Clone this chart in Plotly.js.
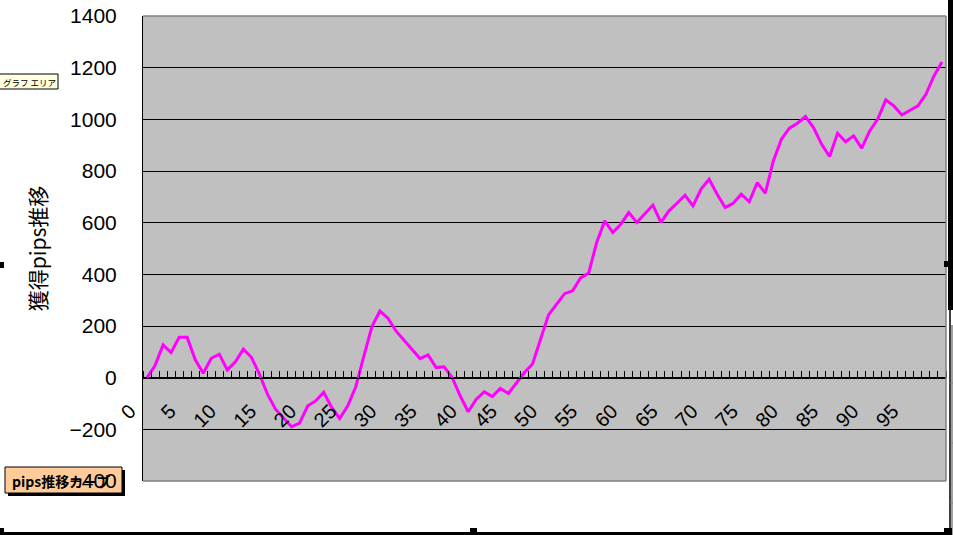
<!DOCTYPE html>
<html>
<head>
<meta charset="utf-8">
<script src="https://cdn.plot.ly/plotly-3.0.1.min.js"></script>
<style>
  html, body { margin: 0; padding: 0; background: #ffffff; }
  #chart { width: 953px; height: 535px; }
</style>
</head>
<body>
<div id="chart"></div>
<script>
// ---- data ----
const seriesName = "pips推移カーブ";
const pipsValues = [
  0, 47, 127, 97, 156, 156, 70, 17, 75, 91,
  30, 61, 110, 79, 14, -64, -122, -154, -190, -176,
  -110, -90, -57, -115, -158, -109, -35, 82, 197, 258,
  230, 181, 145, 110, 74, 88, 39, 42, 1, -70,
  -132, -83, -55, -73, -42, -61, -19, 20, 52, 149,
  243, 284, 325, 336, 386, 405, 523, 607, 562, 594,
  639, 601, 633, 668, 601, 646, 675, 706, 665, 730,
  768, 710, 659, 675, 710, 681, 755, 714, 839, 923,
  966, 985, 1011, 968, 904, 856, 946, 913, 936, 888,
  955, 1001, 1075, 1052, 1017, 1033, 1052, 1097, 1168, 1222
];
const categories = pipsValues.map((v, i) => i);
const xTickLabels = ["0","5","10","15","20","25","30","35","40","45",
                     "50","55","60","65","70","75","80","85","90","95"];
const yTickValues = [-400, -200, 0, 200, 400, 600, 800, 1000, 1200, 1400];
const yTitle = "獲得pips推移";
const chartAreaTip = "グラフ エリア";

// ---- geometry helpers (pixel -> paper) ----
const L = 143, R = 946, T = 16, B = 481;
const W = 953, H = 535;
const px = x => (x - L) / (R - L);
const py = y => (B - y) / (B - T);
const yMin = -400, yMax = 1400;

function rect(x0, y0, x1, y1, fill, line, layer) {
  return {type: 'rect', xref: 'paper', yref: 'paper',
    x0: px(x0), x1: px(x1), y0: py(y1), y1: py(y0),
    fillcolor: fill, line: line || {width: 0}, layer: layer || 'above'};
}
function seg(x0, y0, x1, y1, color, width, layer) {
  return {type: 'line', xref: 'paper', yref: 'paper',
    x0: px(x0), x1: px(x1), y0: py(y0), y1: py(y1),
    line: {color: color, width: width}, layer: layer || 'above'};
}

const trace = {
  type: 'scatter', mode: 'lines', name: seriesName,
  x: categories, y: pipsValues,
  line: {color: '#FF00FF', width: 3},
  hoverinfo: 'x+y'
};

const layout = {
  width: W, height: H,
  margin: {l: L, r: W - R, t: T, b: H - B, pad: 0},
  paper_bgcolor: '#ffffff',
  plot_bgcolor: '#C0C0C0',
  showlegend: false,
  font: {family: 'Liberation Sans, Arial, sans-serif', color: '#000000'},
  xaxis: {
    range: [-0.5, categories.length - 0.5],
    anchor: 'free',
    position: (0 - yMin) / (yMax - yMin),
    showline: true, linecolor: '#000000', linewidth: 1,
    showgrid: false, zeroline: false,
    tickmode: 'array',
    tickvals: xTickLabels.map(Number),
    ticktext: xTickLabels,
    ticks: '',
    tickangle: -45,
    ticklabelshift: -17,
    ticklabelstandoff: 13,
    tickfont: {family: 'Liberation Sans, Arial, sans-serif', size: 20, color: '#000000'},
    minor: {ticks: 'inside', tick0: -0.5, dtick: 1, ticklen: 7, tickwidth: 1,
            tickcolor: '#000000', showgrid: false}
  },
  yaxis: {
    range: [yMin, yMax],
    tickmode: 'array',
    tickvals: yTickValues,
    showgrid: true, gridcolor: '#000000', gridwidth: 1,
    zeroline: true, zerolinecolor: '#000000', zerolinewidth: 1,
    showline: true, linecolor: '#000000', linewidth: 1,
    ticks: '',
    ticklabelstandoff: 21,
    tickfont: {family: 'Liberation Sans Narrow, Liberation Sans, Arial, sans-serif', size: 21, color: '#000000'},
    title: {text: yTitle, standoff: 17,
            font: {family: 'Noto Sans CJK JP, sans-serif', size: 21, color: '#000000'}}
  },
  shapes: [
    // plot area border (gray) on top / right / bottom
    seg(L, T, R, T, '#808080', 1.5),
    seg(R, T, R, B, '#808080', 1.5),
    seg(L, B, R, B, '#808080', 1.5),
    // legend button with shadow
    rect(8, 470, 125, 496, '#000000', {width: 0}, 'below'),
    rect(5, 467, 122, 493, '#FFCC99', {color: '#000000', width: 1}, 'below'),
    // chart area tooltip
    rect(-5, 74, 58, 89, '#FFFFE1', {color: '#000000', width: 1}, 'above'),
    // chart frame (selection)
    rect(948, 0, 953, 310, '#000000'),
    seg(950, 310, 950, 535, '#000000', 1.5),
    seg(952, 325, 952, 535, '#808080', 1.5),
    seg(950, 383, 953, 383, '#808080', 1),
    seg(950, 443, 953, 443, '#808080', 1),
    seg(950, 503, 953, 503, '#808080', 1),
    rect(0, 532, 946, 535, '#000000'),
    // selection handles
    rect(0, 262, 4, 268, '#000000'),
    rect(944, 261, 950, 267, '#000000'),
    rect(470, 528, 477, 535, '#000000'),
    rect(944, 528, 952, 535, '#000000'),
    rect(0, 528, 4, 535, '#000000')
  ],
  annotations: [
    {xref: 'paper', yref: 'paper', x: px(10), y: py(481), xanchor: 'left', yanchor: 'middle',
     text: seriesName, showarrow: false,
     font: {family: 'Noto Sans CJK JP, sans-serif', size: 14, color: '#000000', weight: 'bold'}},
    {xref: 'paper', yref: 'paper', x: px(57), y: py(81.5), xanchor: 'right', yanchor: 'middle',
     text: chartAreaTip, showarrow: false, borderpad: 0,
     font: {family: 'Noto Sans CJK JP, sans-serif', size: 8.5, color: '#000000'}}
  ]
};

Plotly.newPlot('chart', [trace], layout, {displayModeBar: false, staticPlot: true});
</script>
</body>
</html>
